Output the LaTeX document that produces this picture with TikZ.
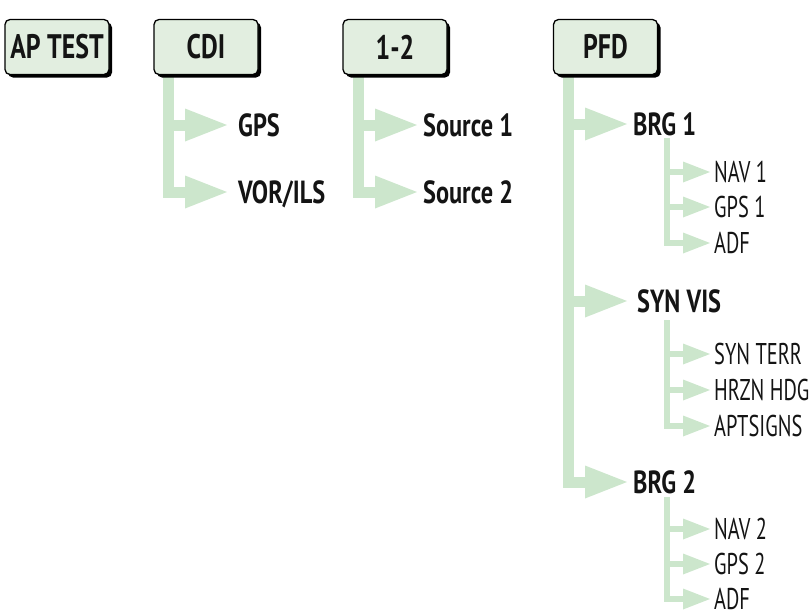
\documentclass[tikz,border=0pt]{standalone}
\usepackage{fontspec}
\setmainfont{PT Sans}
\newfontfamily\boldlabfont{PT Sans}[FakeStretch=0.76]
\newfontfamily\smalllabfont{PT Sans}[FakeStretch=0.68]
\usetikzlibrary{shadows}
\definecolor{trunk}{RGB}{204,230,204}
\definecolor{boxfill}{RGB}{226,238,224}
\definecolor{ink}{RGB}{20,20,20}
\newcommand\bigbranch[3]{% trunk x, row y, tip x
  \draw[tr] (#1,#2) -- (#3-40,#2);
  \fill[trunk] (#3-42,#2-16.5) -- (#3,#2) -- (#3-42,#2+16.5) -- cycle;}
\newcommand\smallbranch[1]{% row y
  \draw[trs] (667,#1) -- (685,#1);
  \fill[trunk] (683,#1-10.5) -- (710,#1) -- (683,#1+10.5) -- cycle;}
\begin{document}
\begin{tikzpicture}[x=1pt,y=-1pt,
  tr/.style={draw=trunk,line width=11pt,line join=miter},
  trs/.style={draw=trunk,line width=6pt,line join=miter},
  menubox/.style={draw=black,line width=1.3pt,fill=boxfill,rounded corners=5pt,
    minimum width=104pt,minimum height=55pt,inner sep=0pt,text=ink,
    font=\boldlabfont\bfseries\fontsize{34}{34}\selectfont,
    drop shadow={shadow xshift=3pt,shadow yshift=-3pt,fill=black,opacity=1}},
  biglab/.style={anchor=base west,inner sep=0pt,text=ink,font=\boldlabfont\bfseries\fontsize{32}{32}\selectfont},
  smalllab/.style={anchor=base west,inner sep=0pt,text=ink,font=\smalllabfont\fontsize{30}{30}\selectfont}]
\useasboundingbox (0,0) rectangle (812,616);

% trunks
\draw[tr] (168,60) -- (168,192) -- (186,192);
\draw[tr] (358,60) -- (358,192) -- (376,192);
\draw[tr] (568,60) -- (568,482) -- (586,482);
\bigbranch{168}{125}{227}
\fill[trunk] (185,175.5) -- (227,192) -- (185,208.5) -- cycle;
\bigbranch{358}{125}{417}
\fill[trunk] (375,175.5) -- (417,192) -- (375,208.5) -- cycle;
\bigbranch{568}{124}{627}
\bigbranch{568}{301}{627}
\fill[trunk] (585,465.5) -- (627,482) -- (585,498.5) -- cycle;

% sub trunks
\draw[trs] (667,138) -- (667,243) -- (685,243);
\draw[trs] (667,320) -- (667,426) -- (685,426);
\draw[trs] (667,497) -- (667,599) -- (685,599);
\smallbranch{172}
\smallbranch{207}
\fill[trunk] (683,232.5) -- (710,243) -- (683,253.5) -- cycle;
\smallbranch{354}
\smallbranch{390}
\fill[trunk] (683,415.5) -- (710,426) -- (683,436.5) -- cycle;
\smallbranch{529}
\smallbranch{564}
\fill[trunk] (683,588.5) -- (710,599) -- (683,609.5) -- cycle;

% boxes
\node[menubox] (aptest) at (57,47) {AP TEST};
\node[menubox] (cdi) at (206,47) {CDI};
\node[menubox] (onetwo) at (395,47) {1-2};
\node[menubox] (pfd) at (605.5,47) {PFD};

% labels
\node[biglab] (gps) at (238,136) {GPS};
\node[biglab] (vorils) at (238,203) {VOR/ILS};
\node[biglab] (src1) at (423,136) {Source 1};
\node[biglab] (src2) at (423,203) {Source 2};
\node[biglab] (brg1) at (633,135) {BRG 1};
\node[biglab] (synvis) at (637,312) {SYN VIS};
\node[biglab] (brg2) at (633,493) {BRG 2};
\node[smalllab] (nav1) at (714,182.5) {NAV 1};
\node[smalllab] (gps1) at (714,217.5) {GPS 1};
\node[smalllab] (adf1) at (714,253.5) {ADF};
\node[smalllab] (synterr) at (714,364.5) {SYN TERR};
\node[smalllab] (hrzn) at (714,400.5) {HRZN HDG};
\node[smalllab] (apt) at (714,436.5) {APTSIGNS};
\node[smalllab] (nav2) at (714,539.5) {NAV 2};
\node[smalllab] (gps2) at (714,574.5) {GPS 2};
\node[smalllab] (adf2) at (714,609.5) {ADF};
\end{tikzpicture}
\end{document}
